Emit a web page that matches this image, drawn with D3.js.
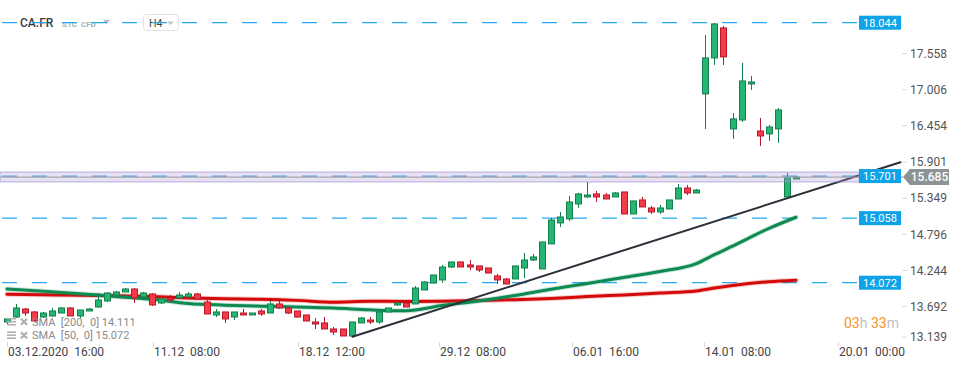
<!DOCTYPE html>
<html><head><meta charset="utf-8">
<script src="https://cdn.jsdelivr.net/npm/d3@7"></script>
<style>
html,body{margin:0;padding:0;background:#fff;}
svg{display:block;font-family:Roboto,"Noto Sans",sans-serif;}
</style></head><body>
<svg id="chart" width="970" height="368"></svg>
<script>
// ---- data (CA.FR, H4 candles) ----
const opens = [13.472,13.548,13.670,13.625,13.548,13.564,13.609,13.686,13.564,13.640,
13.701,13.793,13.884,13.930,13.976,13.854,13.900,13.762,13.839,13.839,
13.854,13.900,13.777,13.579,13.625,13.548,13.609,13.579,13.640,13.609,
13.747,13.686,13.640,13.579,13.472,13.457,13.365,13.365,13.258,13.457,
13.502,13.472,13.625,13.732,13.762,13.747,13.961,14.068,14.114,14.312,
14.389,14.343,14.328,14.297,14.175,14.129,14.129,14.297,14.419,14.282,
14.664,14.985,15.046,15.275,15.382,15.428,15.412,15.382,15.458,15.122,
15.336,15.214,15.153,15.198,15.351,15.519,15.443,16.956,17.506,17.964,
16.421,16.558,17.108,16.390,16.345,16.421,15.382,15.656];
const highs = [13.533,13.747,13.686,13.640,13.625,13.686,13.701,13.701,13.655,13.686,
13.915,13.930,13.946,13.991,13.991,13.930,13.915,13.823,13.884,13.930,
13.930,13.915,13.808,13.670,13.625,13.625,13.670,13.609,13.670,13.793,
13.793,13.701,13.640,13.579,13.533,13.548,13.395,13.365,13.472,13.548,
13.548,13.625,13.686,13.793,13.777,14.022,14.098,14.190,14.343,14.389,
14.389,14.419,14.328,14.297,14.205,14.144,14.328,14.526,14.511,14.694,
15.061,15.152,15.397,15.443,15.611,15.474,15.443,15.458,15.458,15.321,
15.382,15.244,15.260,15.336,15.580,15.565,15.504,17.857,18.041,17.995,
16.665,17.429,17.231,16.589,16.482,16.742,15.749,15.701];
const lows = [13.426,13.533,13.564,13.472,13.533,13.548,13.609,13.564,13.533,13.640,
13.686,13.777,13.884,13.930,13.762,13.854,13.716,13.747,13.777,13.839,
13.854,13.823,13.594,13.548,13.457,13.502,13.579,13.579,13.564,13.609,
13.670,13.594,13.533,13.487,13.365,13.365,13.273,13.258,13.243,13.457,
13.441,13.441,13.625,13.716,13.701,13.747,13.961,14.068,14.068,14.297,
14.312,14.266,14.236,14.220,14.052,14.052,14.129,14.144,14.404,14.282,
14.664,14.924,15.015,15.214,15.366,15.305,15.351,15.382,15.122,15.122,
15.229,15.122,15.122,15.198,15.351,15.412,15.443,16.421,17.399,17.399,
16.268,16.528,17.017,16.161,16.238,16.207,15.366,15.656];
const closes = [13.518,13.686,13.609,13.487,13.609,13.640,13.686,13.564,13.655,13.670,
13.808,13.915,13.930,13.976,13.839,13.915,13.732,13.823,13.808,13.884,
13.900,13.823,13.594,13.625,13.518,13.625,13.579,13.609,13.594,13.747,
13.686,13.609,13.548,13.487,13.441,13.365,13.319,13.258,13.472,13.533,
13.472,13.625,13.686,13.762,13.701,13.991,14.083,14.190,14.312,14.389,
14.312,14.312,14.266,14.220,14.114,14.052,14.328,14.419,14.465,14.694,
15.030,15.076,15.305,15.428,15.412,15.382,15.351,15.443,15.122,15.321,
15.229,15.153,15.214,15.336,15.519,15.443,15.488,17.506,18.025,17.521,
16.574,17.154,17.139,16.314,16.451,16.711,15.672,15.685];

const smaIndex = [0,4,8,12,16,20,24,28,32,36,40,44,48,52,56,60,64,68,72,76,78,80,84,87];
const sma200 = [13.895,13.887,13.880,13.871,13.860,13.839,13.826,13.819,13.802,13.774,13.788,13.785,
13.790,13.800,13.813,13.832,13.860,13.884,13.915,13.946,13.991,14.030,14.088,14.111];
const sma50 = [13.976,13.942,13.903,13.861,13.820,13.755,13.729,13.713,13.701,13.686,13.658,13.643,
13.724,13.793,13.877,13.973,14.060,14.152,14.243,14.364,14.500,14.630,14.900,15.072];

const levels = [18.044, 15.701, 15.058, 14.072];
const priceTicks = [17.558,17.006,16.454,15.901,15.349,14.796,14.244,13.692,13.139];
const timeTickPos = [0,16.06,32.05,47.6,62.3,76.9,91.6];
const timeTickLabels = ["03.12.2020  16:00","11.12  08:00","18.12  12:00","29.12  08:00","06.01  16:00","14.01  08:00","20.01  00:00"];
const trendIdx = [38, 98.6];
const trendPrice = [13.243, 15.916];
const currentPrice = 15.685;
const band = [15.611, 15.763];
const legendLabels = ["SMA  [200,  0] 14.111","SMA  [50,  0] 15.072"];

const nb = s => s.replace(/ /g, "\u00a0");

// ---- scales ----
const svg = d3.select("#chart");
const x = d3.scaleLinear().domain([0,87]).range([7,796]);
const y = d3.scaleLinear().domain([14.072,18.044]).range([282.7,22.7]);
const plotRight = 858;

// ---- header ----
const hdr = svg.append("g");
hdr.append("rect").attr("x",18).attr("y",15).attr("width",38).attr("height",16).attr("fill","#fff");
hdr.append("text").attr("x",20).attr("y",27).attr("font-size",12).attr("font-weight",500)
  .attr("fill","#3a3a3a").text("CA.FR");
hdr.append("text").attr("x",62).attr("y",26.5).attr("font-size",8).attr("font-weight",700)
  .attr("fill","#a3afba").text(nb("STC  CFD"));
hdr.append("path").attr("d","M103,20 L110,20 L106.5,24 Z").attr("fill","#bbb");
hdr.append("rect").attr("x",143.5).attr("y",14.5).attr("width",35).attr("height",16).attr("rx",3)
  .attr("fill","#fff").attr("stroke","#e2e2e2");
hdr.append("text").attr("x",149).attr("y",27).attr("font-size",10.5).attr("fill","#444").text("H4");
hdr.append("path").attr("d","M167,21.5 L174,21.5 L170.5,25 Z").attr("fill","#c4c4c4");

// ---- level dashed lines ----
svg.append("g").selectAll("line").data(levels).join("line")
  .attr("x1",0).attr("x2",plotRight)
  .attr("y1",d=>y(d)).attr("y2",d=>y(d))
  .attr("stroke","#2aa8ec").attr("stroke-width",1.3)
  .attr("stroke-dasharray","15,15").attr("stroke-dashoffset",28);

// ---- SMA lines ----
const line = d3.line().x(d=>x(d[0])).y(d=>y(d[1])).curve(d3.curveMonotoneX);
const s200 = smaIndex.map((i,k)=>[i,sma200[k]]);
const s50 = smaIndex.map((i,k)=>[i,sma50[k]]);
[[s200,"#d40a0a"],[s50,"#0c8a52"]].forEach(([data,col])=>{
  svg.append("path").attr("d",line(data)).attr("fill","none").attr("stroke",col)
    .attr("stroke-width",5).attr("stroke-opacity",0.22).attr("stroke-linecap","round");
  svg.append("path").attr("d",line(data)).attr("fill","none").attr("stroke",col)
    .attr("stroke-width",3).attr("stroke-linecap","round");
});

// ---- candles ----
const candles = opens.map((o,i)=>({i,o,h:highs[i],l:lows[i],c:closes[i]}));
const cg = svg.append("g");
const up = d=>d.c>=d.o;
cg.selectAll("line.w").data(candles).join("line").attr("class","w")
  .attr("x1",d=>Math.round(x(d.i))+0.5).attr("x2",d=>Math.round(x(d.i))+0.5)
  .attr("y1",d=>y(d.h)).attr("y2",d=>y(d.l))
  .attr("stroke",d=>up(d)?"#137f4c":"#b8182c").attr("stroke-width",1);
cg.selectAll("rect").data(candles).join("rect")
  .attr("x",d=>Math.round(x(d.i))-2.5).attr("width",6)
  .attr("y",d=>y(Math.max(d.o,d.c)))
  .attr("height",d=>Math.max(1.5,Math.abs(y(d.o)-y(d.c))))
  .attr("fill",d=>up(d)?"#27b574":"#f53a48")
  .attr("stroke",d=>up(d)?"#137f4c":"#b8182c").attr("stroke-width",1);

// ---- trendline ----
svg.append("line")
  .attr("x1",x(trendIdx[0])).attr("y1",y(trendPrice[0]))
  .attr("x2",x(trendIdx[1])).attr("y2",y(trendPrice[1]))
  .attr("stroke","#2b2f38").attr("stroke-width",2);

// ---- band + current price line ----
svg.append("rect").attr("x",0).attr("width",859)
  .attr("y",y(band[1])).attr("height",y(band[0])-y(band[1]))
  .attr("fill","rgba(175,155,220,0.30)").attr("stroke","rgba(150,130,205,0.6)").attr("stroke-width",1);
svg.append("line").attr("x1",0).attr("x2",903)
  .attr("y1",y(currentPrice)).attr("y2",y(currentPrice))
  .attr("stroke","#9a9a9a").attr("stroke-width",1);

// ---- right axis ----
const ra = svg.append("g");
priceTicks.forEach(v=>{
  const yy = Math.min(y(v)-1, 337);
  ra.append("line").attr("x1",902).attr("x2",907).attr("y1",yy).attr("y2",yy).attr("stroke","#dcdcdc");
  ra.append("text").attr("x",910).attr("y",yy).attr("dy","0.36em").attr("font-size",12)
    .attr("fill","#555").text(v.toFixed(3));
});

// level labels
levels.forEach(v=>{
  const yy=y(v);
  ra.append("rect").attr("x",859).attr("y",yy-7).attr("width",42).attr("height",14).attr("fill","#0ea3e8");
  ra.append("text").attr("x",880).attr("y",yy).attr("dy","0.36em").attr("text-anchor","middle")
    .attr("font-size",11).attr("fill","#fff").text(v.toFixed(3));
});
// current price label
{
  const yc=y(currentPrice);
  ra.append("path").attr("d",`M903,${yc} L910,${yc-8} L949,${yc-8} L949,${yc+8} L910,${yc+8} Z`).attr("fill","#8b9395");
  ra.append("text").attr("x",929.5).attr("y",yc).attr("dy","0.36em").attr("text-anchor","middle")
    .attr("font-size",12).attr("font-weight",500).attr("fill","#fff").text(currentPrice.toFixed(3));
}

// ---- time axis ----
const ta = svg.append("g");
timeTickPos.forEach((p,k)=>{
  const xx = Math.round(x(p))+0.5;
  ta.append("line").attr("x1",xx).attr("x2",xx).attr("y1",342).attr("y2",347).attr("stroke","#d8d8d8");
  ta.append("text").attr("x",xx+0.5).attr("y",355.5).attr("font-size",12)
    .attr("fill","#444").text(nb(timeTickLabels[k]));
});

// ---- legend ----
const lg = svg.append("g");
legendLabels.forEach((t,k)=>{
  const yy = 321.7 + k*13.5;
  [-3,0,3].forEach(dy=>lg.append("line").attr("x1",7).attr("x2",16).attr("y1",yy+dy).attr("y2",yy+dy)
    .attr("stroke","#b0b0b0").attr("stroke-width",1.6));
  lg.append("path").attr("d",`M21,${yy-3} L27,${yy+3} M27,${yy-3} L21,${yy+3}`)
    .attr("stroke","#b0b0b0").attr("stroke-width",2.2);
  lg.append("text").attr("x",32).attr("y",yy).attr("dy","0.36em")
    .attr("font-size",11).attr("fill","#8a8a8a").text(nb(t));
});

// ---- timer ----
const tm = svg.append("text").attr("x",844).attr("y",328).attr("font-size",14);
tm.append("tspan").attr("fill","#f7931d").text("03");
tm.append("tspan").attr("fill","#c2c2c2").text("h\u00a0");
tm.append("tspan").attr("fill","#f7931d").text("33");
tm.append("tspan").attr("fill","#c2c2c2").text("m");
</script>
</body></html>
